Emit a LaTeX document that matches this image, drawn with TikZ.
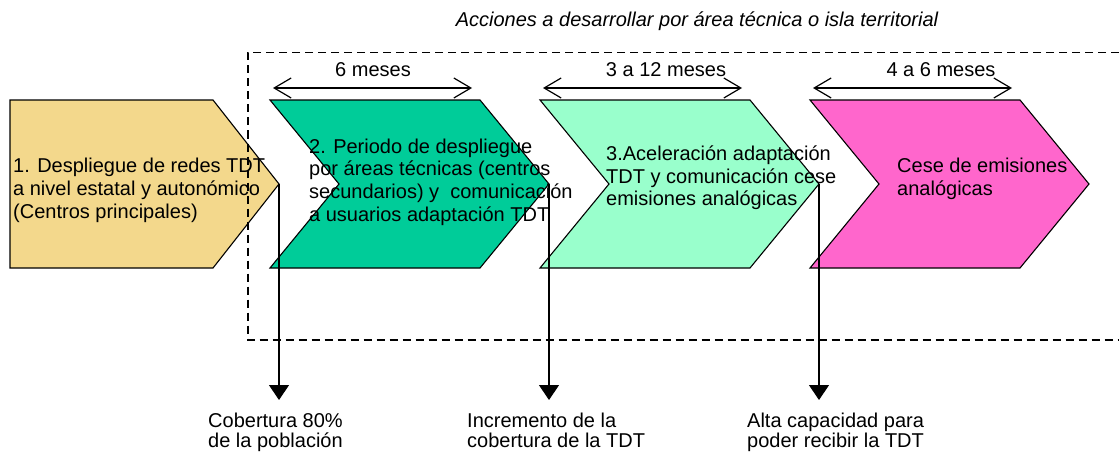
\documentclass[tikz,border=0pt]{standalone}
\usepackage{fontspec}
\setmainfont{Liberation Sans}
\usetikzlibrary{arrows.meta,calc}
\definecolor{tdtsand}{RGB}{243,216,140}
\definecolor{tdtgreen}{RGB}{0,204,153}
\definecolor{tdtmint}{RGB}{153,255,204}
\definecolor{tdtpink}{RGB}{255,102,204}

\begin{document}
\begin{tikzpicture}[x=1pt,y=-1pt]
    \tikzset{
        etapa/.style={draw=black,line width=1.1pt,line join=miter},
        texto/.style={font=\fontsize{20}{22.7}\selectfont,align=left,inner sep=0pt,anchor=north west},
        hito/.style={font=\fontsize{20}{20}\selectfont,align=left,inner sep=0pt,anchor=north west},
        plazo/.style={line width=1.2pt,{Straight Barb[length=17pt,width=20pt]}-{Straight Barb[length=17pt,width=20pt]}},
        bajada/.style={line width=1.3pt,-{Triangle[width=20pt,length=15pt]}},
        marco/.style={line width=1.3pt,dash pattern=on 8pt off 5pt}}
    \useasboundingbox (0,0) rectangle (1119,452);
    % etapa 1
    \draw[etapa,fill=tdtsand] (10,100) -- (213,100) -- (279,184) coordinate (p1) -- (213,268) -- (10,268) -- cycle;
    % etapas 2 a 4 y sus plazos
    \foreach \x/\col/\n in {270/tdtgreen/2,540/tdtmint/3,810/tdtpink/4}{
        \draw[etapa,fill=\col] (\x,100) -- ++(210,0) -- ++(69,84) coordinate (p\n) -- ++(-69,84) -- ++(-210,0) -- ++(69,-84) -- cycle;
        \coordinate (i\n) at (\x+3,88);
        \coordinate (f\n) at (\x+202,88);
        \draw[plazo] (i\n) -- (f\n);
    }
    \draw[marco] (1119,52.5) -- (248,52.5) -- (248,340) -- (1119,340);
    \node[font=\fontsize{20}{22}\selectfont\itshape,anchor=base] (titulo) at (697,27) {Acciones a desarrollar por área técnica o isla territorial};
    \node[font=\fontsize{20}{22}\selectfont,anchor=base] (m2) at (373,77) {6 meses};
    \node[font=\fontsize{20}{22}\selectfont,anchor=base] (m3) at (666,77) {3 a 12 meses};
    \node[font=\fontsize{20}{22}\selectfont,anchor=base] (m4) at (941,77) {4 a 6 meses};
    % hitos
    \foreach \n in {1,2,3}{
        \coordinate (a\n) at ($(p\n)+(0,216)$);
    }
    \draw[bajada] (p1) -- (a1);
    \draw[bajada] (p2) -- (a2);
    \draw[bajada] (p3) -- (a3);
    \node[texto] (t1) at (13,158) {1. Despliegue de redes TDT\\a nivel estatal y autonómico\\(Centros principales)};
    \node[texto] (t2) at (309,138.5) {2. Periodo de despliegue\\por áreas técnicas (centros\\secundarios) y~ comunicación\\a usuarios adaptación TDT};
    \node[texto] (t3) at (606,145.5) {3.Aceleración adaptación\\TDT y comunicación cese\\emisiones analógicas};
    \node[texto] (t4) at (897,158) {Cese de emisiones\\analógicas};
    \node[hito] (h1) at (208,412.5) {Cobertura 80\%\\de la población};
    \node[hito] (h2) at (467,412.5) {Incremento de la\\cobertura de la TDT};
    \node[hito] (h3) at (747,412.5) {Alta capacidad para\\poder recibir la TDT};
\end{tikzpicture}
\end{document}
